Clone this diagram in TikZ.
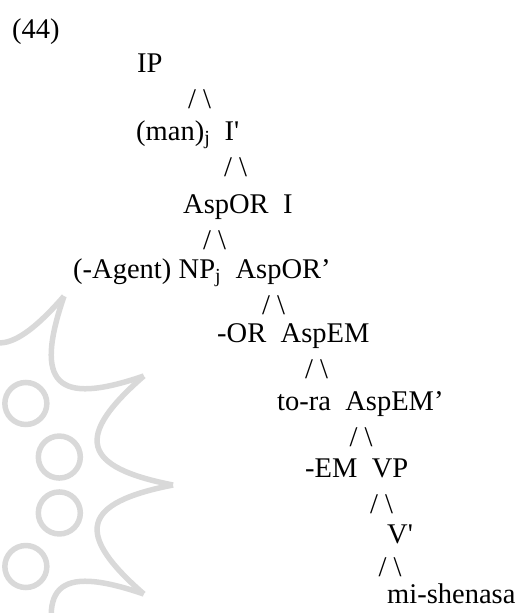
\documentclass[tikz,border=0pt]{standalone}
\usepackage{fontspec}
\setmainfont{Liberation Serif}
\usetikzlibrary{positioning}

\begin{document}
\begin{tikzpicture}[x=1pt, y=-1pt,
    every node/.style={inner sep=0pt, font=\fontsize{28.5}{34}\selectfont},
    word/.style={anchor=base west},
    branch/.style={anchor=center}]
  \useasboundingbox (0,0) rectangle (519,613);
  % faint ornament behind the tree
  \begin{scope}
    \clip (0,0) rectangle (519,613);
    \begin{scope}[shift={(-45,485)}, draw=black!15, line width=5.5pt]
      \foreach \a in {-83,-49,-15,15,49,83}
        \draw (\a:108) circle (21pt);
      \foreach \a in {-120,-90,...,90}
        \draw (\a:218) .. controls ({\a+8}:128) and ({\a+22}:128) .. ({\a+30}:218);
    \end{scope}
  \end{scope}

  \node (num) [word] at (12,38) {(44)};
  \node (ip) [word] at (137,72) {IP};
  \node (b1) [branch] at (199.5,99) {/ \textbackslash};
  \node (man) [word] at (136,140) {(man)\textsubscript{j}};
  \node (ibar) [word, base right=14pt of man] {I\textquotesingle};
  \node (b2) [branch] at (235.5,167) {/ \textbackslash};
  \node (aspor) [word] at (183,213) {AspOR};
  \node (infl) [word, base right=14pt of aspor] {I};
  \node (b3) [branch] at (214.5,240) {/ \textbackslash};
  \node (agent) [word] at (73,278) {(-Agent)};
  \node (np) [word, base right=7pt of agent] {NP\textsubscript{j}};
  \node (asporbar) [word, base right=14pt of np] {AspOR’};
  \node (b4) [branch] at (273.5,305) {/ \textbackslash};
  \node (or) [word] at (217,342) {-OR};
  \node (aspem) [word, base right=14pt of or] {AspEM};
  \node (b5) [branch] at (316.5,369) {/ \textbackslash};
  \node (tora) [word] at (277,410) {to-ra};
  \node (aspembar) [word, base right=14pt of tora] {AspEM’};
  \node (b6) [branch] at (361,437) {/ \textbackslash};
  \node (em) [word] at (305,477) {-EM};
  \node (vp) [word, base right=14pt of em] {VP};
  \node (b7) [branch] at (381.5,504) {/ \textbackslash};
  \node (vbar) [word] at (387,543) {V\textquotesingle};
  \node (b8) [branch] at (390,567) {/ \textbackslash};
  \node (verb) [word] at (387,603) {mi-shenasa};
\end{tikzpicture}
\end{document}
